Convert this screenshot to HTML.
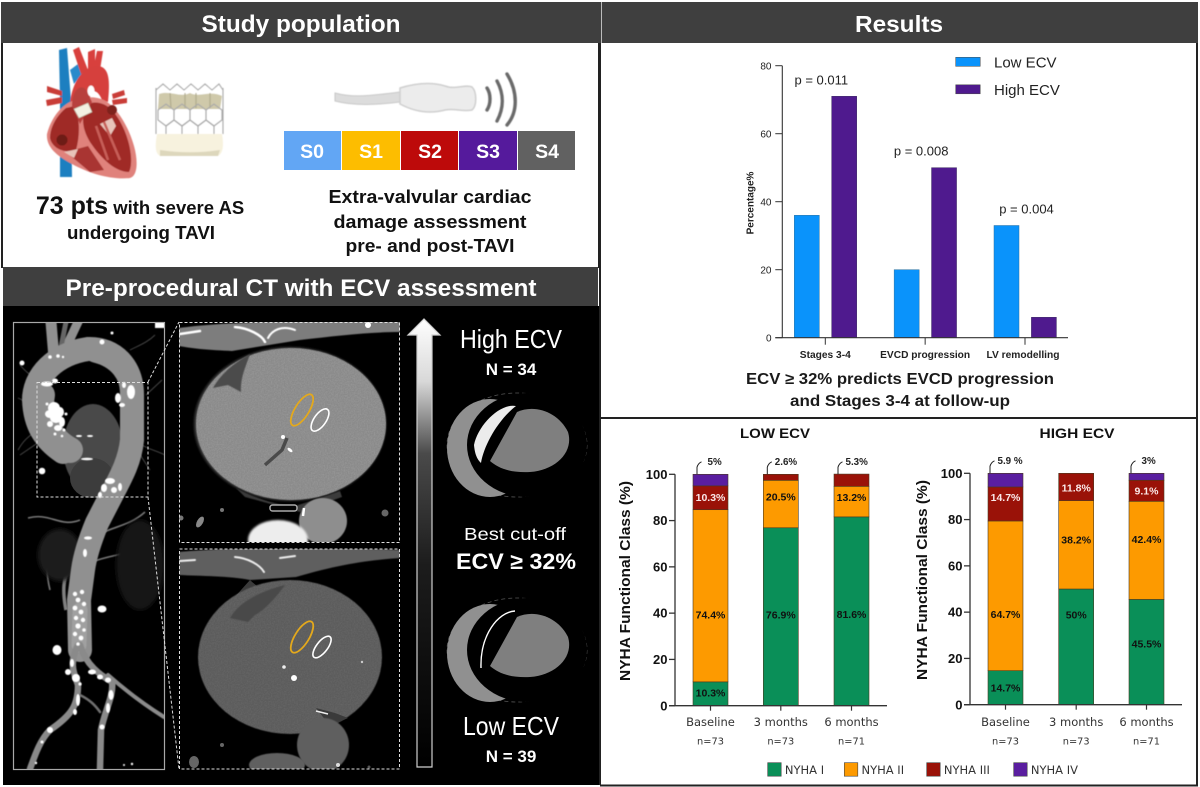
<!DOCTYPE html>
<html lang="en">
<head>
<meta charset="utf-8">
<title>ECV assessment and TAVI outcomes</title>
<style>
html,body{margin:0;padding:0;background:#fff;width:1200px;height:787px;overflow:hidden}
svg{display:block}
text{font-family:"Liberation Sans",sans-serif}
</style>
</head>
<body>
<svg id="root" xmlns="http://www.w3.org/2000/svg" width="1200" height="787" viewBox="0 0 1200 787">
<defs>
<filter id="b05"><feGaussianBlur stdDeviation="0.5"/></filter>
<filter id="b1"><feGaussianBlur stdDeviation="1"/></filter>
<filter id="b2"><feGaussianBlur stdDeviation="2"/></filter>
<filter id="noise" x="0" y="0" width="100%" height="100%"><feTurbulence type="fractalNoise" baseFrequency="0.7" numOctaves="2" seed="4"/><feColorMatrix values="0 0 0 0 0.62 0 0 0 0 0.62 0 0 0 0 0.62 1.6 0 0 0 -0.5"/></filter>
<linearGradient id="arrowGrad" x1="0" y1="0" x2="0" y2="1"><stop offset="0" stop-color="#fff"/><stop offset="0.14" stop-color="#d8d8d8"/><stop offset="0.3" stop-color="#4a4a4a"/><stop offset="0.55" stop-color="#1c1c1c"/><stop offset="1" stop-color="#000"/></linearGradient>
<clipPath id="upperClip"><rect x="179" y="322" width="221" height="220"/></clipPath>
<clipPath id="lowerClip"><rect x="179" y="549" width="221" height="220"/></clipPath>
<clipPath id="leftClip"><rect x="13" y="322" width="152" height="447"/></clipPath>
<clipPath id="upperHeartClip"><ellipse cx="291" cy="424" rx="95" ry="76"/></clipPath>
<clipPath id="lowerHeartClip"><ellipse cx="290" cy="657" rx="92" ry="77"/></clipPath>
</defs>

<rect x="0" y="0" width="1200" height="787" fill="#fff"/>

<!-- Left column -->
<g>
<rect x="1" y="2" width="599" height="41" fill="#3f3f3f"/>
<text x="301" y="32" text-anchor="middle" font-size="24" font-weight="700" fill="#fff" textLength="199" lengthAdjust="spacingAndGlyphs">Study population</text>
<rect x="1" y="43" width="2" height="225" fill="#222"/>
<rect x="598" y="43" width="2" height="225" fill="#222"/>

<g filter="url(#b05)">
<path d="M59 50 L67 48 L71 100 L72 177 L60 177 L60 100 Z" fill="#1f7fc0"/>
<path d="M70 70 L78 64 L82 74 L74 84 Z" fill="#2a8acb"/>
<path d="M73 50 L79 47 L88 70 L81 74 Z" fill="#d8413d"/>
<path d="M88 52 L95 49 L95 70 L88 72 Z" fill="#d8413d"/>
<path d="M97 51 L103 51 L100 70 L93 70 Z" fill="#d8413d"/>
<path d="M70 104 C72 80 85 66 97 66 C110 66 110 82 108 102 L102 100 C98 90 92 88 90 98 L80 112 Z" fill="#d6403c"/>
<ellipse cx="91" cy="91" rx="3.5" ry="5.5" fill="#fff"/>
<path d="M47 86 L62 91 L62 96 L47 92 Z M46 100 L62 97 L62 103 L47 106 Z" fill="#c93c38"/>
<path d="M112 94 L124 90 L125 95 L113 99 Z M112 100 L127 98 L127 103 L113 105 Z" fill="#c93c38"/>
<path d="M70 102 C58 108 50 122 47 134 C46 146 55 155 72 164 C90 174 112 180 130 178 C138 176 138 160 134 146 C129 128 118 108 104 100 C95 96 82 96 70 102 Z" fill="#e0827c"/>
<path d="M66 108 C56 116 50 128 50 138 C52 148 64 154 76 150 C80 136 80 120 75 106 Z" fill="#9f2a27"/>
<path d="M86 106 C80 120 84 132 90 142 C102 160 116 172 129 172 C135 160 128 128 112 110 C104 102 92 100 86 106 Z" fill="#a02a27"/>
<path d="M72 106 C72 88 82 84 86 90 L92 102 L80 124 Z" fill="#b8403c"/>
<path d="M66 152 L88 146 L104 170 L90 172 Z" fill="#a93531"/>
<path d="M100 124 L112 118 L116 126 L110 136 Z" fill="#e8c4ba"/>
<path d="M64 152 L78 149 L74 158 Z" fill="#e8c4ba"/>
<path d="M96 126 L108 160 M104 122 L120 160" stroke="#c75f58" stroke-width="2.5"/>
<circle cx="62" cy="140" r="5.5" fill="#6d1a18"/>
<circle cx="112" cy="110" r="5" fill="#7e201d"/>
<path d="M74 109 L88 103 L92 112 L79 118 Z" fill="#f3f0e2" stroke="#b9b79f" stroke-width="0.6"/>
</g>

<g filter="url(#b05)">
<path d="M158 92 L170 87 L178 90 L190 85 L200 90 L212 85 L220 92 L219 108 L158 108 Z" fill="#fff"/>
<path d="M159 94 C170 90 180 98 190 93 C200 98 210 90 222 96 L220 109 L158 109 Z" fill="#cfc9aa"/>
<path d="M170 93 L171 108 M185 93 L185 108 M196 93 L196 108 M210 93 L210 108" stroke="#b0aa8c" stroke-width="1.2"/>
<path d="M157 134 L222 134 C224 146 223 153 218 156 L160 156 C155 153 155 146 157 134 Z" fill="#f7f2de"/>
<path d="M160 150 C180 153 200 153 220 150 L218 156 L160 156 Z" fill="#ddd7bc"/>
<g fill="none" stroke="#a9a9a9" stroke-width="1.1">
<path d="M156 88 L156 134 M223 88 L223 134"/>
<path d="M156 90 L163 84 L170 90 L177 84 L184 90 L191 84 L198 90 L205 84 L212 90 L219 84 L223 90"/>
<path d="M158 110 L166 104 L174 110 L174 120 L166 126 L158 120 Z"/>
<path d="M174 110 L182 104 L190 110 L190 120 L182 126 L174 120 Z"/>
<path d="M190 110 L198 104 L206 110 L206 120 L198 126 L190 120 Z"/>
<path d="M206 110 L214 104 L222 110 L222 120 L214 126 L206 120 Z"/>
<path d="M166 126 L174 120 L182 126 L182 134 M198 126 L206 120 L214 126 L214 134 M182 126 L190 120 L198 126 L198 134 M166 126 L166 134"/>
</g>
</g>

<text x="140" y="214" text-anchor="middle" fill="#111" font-weight="700"><tspan font-size="25">73 pts</tspan><tspan font-size="18.5"> with severe AS</tspan></text>
<text x="141" y="239" text-anchor="middle" fill="#111" font-weight="700" font-size="18.5" textLength="148" lengthAdjust="spacingAndGlyphs" id="undergoing">undergoing TAVI</text>

<g filter="url(#b05)">
<path d="M335 93 C350 97 362 97 400 92 L400 102 C370 106 350 105 335 101 Z" fill="#dcdcdc" stroke="#c8c8c8"/>
<path d="M400 88 C420 82 435 83 445 86 C455 90 465 84 472 87 C477 92 477 106 472 110 C462 112 455 108 445 110 C430 114 415 112 400 104 Z" fill="#ececec" stroke="#cfcfcf" stroke-width="1.5"/>
<path d="M487 88 C491 94 491 104 487 110" fill="none" stroke="#6b6b6b" stroke-width="3.4" stroke-linecap="round"/>
<path d="M497 81 C504 94 504 108 497 121" fill="none" stroke="#6b6b6b" stroke-width="3.4" stroke-linecap="round"/>
<path d="M507 74 C518 92 518 112 507 125" fill="none" stroke="#6b6b6b" stroke-width="3.4" stroke-linecap="round"/>
</g>

<g>
<rect x="284" y="131" width="57" height="39" fill="#62a6f4"/>
<rect x="342" y="131" width="58" height="39" fill="#fdbd00"/>
<rect x="401" y="131" width="57" height="39" fill="#bd0a0a"/>
<rect x="459" y="131" width="58" height="39" fill="#551a9c"/>
<rect x="518" y="131" width="57" height="39" fill="#616161"/>
<g font-size="19.5" font-weight="700" fill="#fff" text-anchor="middle">
<text x="312" y="158">S0</text>
<text x="371" y="158">S1</text>
<text x="430" y="158">S2</text>
<text x="488" y="158">S3</text>
<text x="547" y="158">S4</text>
</g>
</g>
<g fill="#111" font-weight="700" font-size="18" text-anchor="middle">
<text x="430" y="203" textLength="203" lengthAdjust="spacingAndGlyphs">Extra-valvular cardiac</text>
<text x="430" y="228" textLength="193" lengthAdjust="spacingAndGlyphs">damage assessment</text>
<text x="430" y="252" textLength="169" lengthAdjust="spacingAndGlyphs">pre- and post-TAVI</text>
</g>

<rect x="3" y="267" width="595" height="39" fill="#3f3f3f"/>
<text x="301" y="296" text-anchor="middle" font-size="24" font-weight="700" fill="#fff" textLength="471" lengthAdjust="spacingAndGlyphs">Pre-procedural CT with ECV assessment</text>
</g>

<!-- CT panel -->
<g>
<rect x="3" y="306" width="597" height="479" fill="#000"/>

<g clip-path="url(#leftClip)">
<g fill="none" stroke="#4a4a4a" stroke-width="0.9" filter="url(#b05)">
<path d="M36 378 C30 375 26 372 20 365 M33 405 L18 398 M37 430 C30 436 25 438 18 450 M42 440 L20 455 M140 444 C150 450 155 450 165 455 M137 450 L150 470 M130 350 C140 345 148 342 155 335 M146 395 L162 380"/>
<path d="M80 520 C60 528 50 512 28 518 M50 540 C48 560 45 570 50 590 M85 545 C105 525 125 530 145 512 M92 562 C110 555 125 555 132 550" stroke="#777" stroke-width="1.6"/>
<path d="M78 560 C62 570 62 590 66 610" stroke="#808080" stroke-width="3.5"/>
</g>
<ellipse cx="60" cy="555" rx="22" ry="26" fill="#1a1a1a" filter="url(#b2)"/>
<ellipse cx="140" cy="565" rx="24" ry="45" fill="#161616" filter="url(#b2)"/>
<ellipse cx="93" cy="448" rx="30" ry="44" fill="#4a4a4a" filter="url(#b05)"/>
<ellipse cx="92" cy="478" rx="22" ry="20" fill="#3c3c3c"/>
<g fill="none" stroke-linecap="round" stroke="#909090" filter="url(#b05)">
<path d="M51 322 L54 358" stroke-width="11"/>
<path d="M78 322 L62 356" stroke-width="9"/>
<path d="M66 322 L60 352" stroke-width="5" stroke="#666"/>
<path d="M63 452 C45 440 35 425 34 400 C34 376 55 354 88 349 C115 348 132 368 132 395 L132 440 C130 460 122 475 113 492 L97 523 C90 540 85 555 83 570 L79 600 L80 650" stroke-width="24"/>
<path d="M42 395 C38 415 50 440 70 450" stroke-width="26"/>
<path d="M95 352 C120 358 130 375 132 395" stroke-width="21"/>
<path d="M80 610 L79 645" stroke-width="15" stroke="#a0a0a0"/>
<path d="M78 645 C68 665 75 675 78 685 C78 705 72 715 50 730 C40 740 35 755 30 769" stroke-width="6.5" stroke="#8a8a8a"/>
<path d="M80 645 C86 665 100 675 112 682 C114 695 105 710 101 730 L100 769" stroke-width="6.5" stroke="#8a8a8a"/>
<path d="M108 675 C125 690 145 705 164 717" stroke-width="4" stroke="#8a8a8a"/>
<path d="M80 695 C90 700 95 705 100 712" stroke-width="2.5" stroke="#707070"/>
</g>
<g fill="#fff" filter="url(#b05)">
<ellipse cx="54" cy="408" rx="6" ry="6"/><ellipse cx="60" cy="412" rx="4" ry="5"/><ellipse cx="50" cy="414" rx="5" ry="4"/><ellipse cx="56" cy="418" rx="6" ry="5"/><ellipse cx="62" cy="422" rx="3" ry="5"/><ellipse cx="50" cy="424" rx="3" ry="3"/><ellipse cx="58" cy="428" rx="4" ry="3"/><circle cx="64" cy="430" r="1.5"/><circle cx="47" cy="404" r="1.5"/><circle cx="66" cy="414" r="1.5"/><circle cx="55" cy="434" r="1.5"/><circle cx="62" cy="436" r="1.3"/>
<ellipse cx="47" cy="384" rx="6" ry="2.5"/><ellipse cx="55" cy="381" rx="3" ry="2.5"/><circle cx="50" cy="357" r="1.8"/><circle cx="58" cy="356" r="1.8"/><circle cx="63" cy="357" r="1.2"/>
<circle cx="102" cy="342" r="2.5"/><ellipse cx="131" cy="392" rx="4" ry="7"/><ellipse cx="124" cy="385" rx="2" ry="3"/><ellipse cx="118" cy="398" rx="3" ry="5"/><ellipse cx="122" cy="405" rx="3" ry="2"/>
<circle cx="22" cy="363" r="2.5"/><circle cx="42" cy="471" r="3.3"/><circle cx="112" cy="333" r="1.5"/>
<ellipse cx="110" cy="481" rx="5" ry="3"/><ellipse cx="104" cy="488" rx="3" ry="4"/><ellipse cx="114" cy="490" rx="3" ry="3"/><ellipse cx="120" cy="487" rx="2" ry="4"/><ellipse cx="100" cy="495" rx="2" ry="3"/>
<ellipse cx="87" cy="459" rx="6" ry="1.3"/><ellipse cx="79" cy="436" rx="3" ry="1"/><ellipse cx="90" cy="436" rx="3" ry="1"/>
<ellipse cx="88" cy="538" rx="4" ry="1.6"/><ellipse cx="85" cy="553" rx="2" ry="4"/>
<circle cx="75" cy="594" r="2.2"/><circle cx="82" cy="592" r="2.2"/><circle cx="78" cy="600" r="2.4"/><circle cx="84" cy="604" r="2.2"/><circle cx="75" cy="608" r="2.4"/><circle cx="81" cy="612" r="2.4"/><circle cx="76" cy="618" r="2.2"/><circle cx="83" cy="620" r="2.2"/><circle cx="78" cy="626" r="2.6"/><circle cx="84" cy="630" r="1.8"/><circle cx="75" cy="634" r="2.2"/><circle cx="81" cy="638" r="2.4"/><circle cx="78" cy="644" r="1.8"/>
<ellipse cx="102" cy="609" rx="4.5" ry="3.5"/><ellipse cx="57" cy="650" rx="4.5" ry="5"/>
<ellipse cx="68" cy="672" rx="3" ry="3"/><ellipse cx="76" cy="678" rx="4" ry="4"/><ellipse cx="72" cy="663" rx="2" ry="4"/><circle cx="80" cy="684" r="1.6"/>
<ellipse cx="92" cy="672" rx="4" ry="2.5"/><ellipse cx="100" cy="677" rx="3" ry="2.5"/><ellipse cx="108" cy="680" rx="3" ry="2.5"/><ellipse cx="111" cy="695" rx="2.5" ry="5"/><ellipse cx="108" cy="708" rx="2" ry="5"/>
<ellipse cx="78" cy="700" rx="2" ry="6"/><ellipse cx="75" cy="712" rx="2" ry="3"/><circle cx="102" cy="727" r="2.5"/><circle cx="50" cy="730" r="3"/><circle cx="42" cy="742" r="1.5"/>
<circle cx="132" cy="764" r="1.2"/><circle cx="124" cy="765" r="1"/><circle cx="36" cy="763" r="1.2"/>
<rect x="155" y="322" width="10" height="6"/>
</g>
</g>
<rect x="13.5" y="322.5" width="151" height="447" fill="none" stroke="#a8a8a8" stroke-width="1.2"/>
<rect x="37" y="382.5" width="111" height="114.5" fill="none" stroke="#ddd" stroke-width="1" stroke-dasharray="3 2"/>
<path d="M148 382 L179 322 M148 497 L179 769" fill="none" stroke="#ddd" stroke-width="1" stroke-dasharray="3 2"/>

<g clip-path="url(#upperClip)">
<path d="M179 328 C220 322 300 320 400 322 L400 332 C370 332 335 336 300 340 L232 351 C210 350 195 349 179 346 Z" fill="#7d7d7d" filter="url(#b05)"/>
<g fill="none" stroke="#fff" stroke-linecap="round" filter="url(#b05)"><path d="M180 334 L200 331" stroke-width="2.5"/><path d="M235 327 C248 328 262 335 265 342" stroke-width="2.5"/><path d="M268 338 C272 330 282 325 295 330" stroke-width="2"/></g>
<circle cx="368" cy="325" r="3" fill="#fff"/>
<ellipse cx="290" cy="424" rx="96" ry="77" fill="#3a3a3a" filter="url(#b1)"/>
<ellipse cx="291" cy="424" rx="95" ry="76" fill="#8a8a8a" filter="url(#b05)"/>
<rect x="190" y="340" width="205" height="170" clip-path="url(#upperHeartClip)" fill="#888" filter="url(#noise)" opacity="0.22"/>
<path d="M213 388 C222 372 236 362 250 354 C246 366 240 378 241 392 L228 385 Z" fill="#4c4c4c" filter="url(#b05)"/>
<path d="M236 488 C255 498 275 505 295 506 C305 503 320 498 340 491 L342 497 L300 512 L245 497 Z" fill="#3a3a3a" filter="url(#b05)"/>
<path d="M265 465 L282 450 L287 438" fill="none" stroke="#4a4a4a" stroke-width="3.5"/>
<circle cx="283" cy="437" r="2" fill="#fff"/><ellipse cx="290" cy="450" rx="3" ry="1.5" transform="rotate(40 290 450)" fill="#fff"/>
<ellipse cx="323" cy="521" rx="24" ry="23" fill="#8e8e8e" filter="url(#b05)"/>
<rect x="270" y="505" width="27" height="6" rx="2.5" fill="#050505" stroke="#aaa" stroke-width="1.5"/>
<ellipse cx="278" cy="540" rx="30" ry="20" fill="#ededed" filter="url(#b1)"/>
<path d="M304 508 L303 516" stroke="#fff" stroke-width="2.5"/>
<circle cx="222" cy="510" r="2" fill="#777"/><circle cx="385" cy="513" r="3.5" fill="#666"/><ellipse cx="200" cy="522" rx="3" ry="6" transform="rotate(30 200 522)" fill="#888"/><circle cx="181" cy="518" r="2.5" fill="#777"/>
<ellipse cx="302" cy="410" rx="18" ry="7" transform="rotate(-58 302 410)" fill="none" stroke="#e4a91c" stroke-width="1.8"/>
<ellipse cx="320" cy="420" rx="13" ry="6" transform="rotate(-55 320 420)" fill="none" stroke="#fff" stroke-width="1.6"/>
</g>
<g clip-path="url(#lowerClip)">
<path d="M179 552 C220 548 300 547 400 550 L400 558 C370 560 340 564 296 577 L250 580 C230 576 200 576 179 575 Z" fill="#5f5f5f" filter="url(#b05)"/>
<g fill="none" stroke="#eee" stroke-linecap="round" filter="url(#b05)"><path d="M180 561 L195 560" stroke-width="2"/><path d="M235 557 C248 558 260 565 264 572" stroke-width="2"/><path d="M280 558 L295 556" stroke-width="2"/></g>
<path d="M250 580 C262 592 280 598 300 600 L270 620 L232 600 Z" fill="#3b3b3b"/>
<ellipse cx="290" cy="657" rx="92" ry="77" fill="#5c5c5c" filter="url(#b05)"/>
<rect x="195" y="575" width="190" height="160" clip-path="url(#lowerHeartClip)" fill="#666" filter="url(#noise)" opacity="0.1"/>
<path d="M230 618 C240 600 265 590 285 585 C278 595 265 610 255 615 L248 622 Z" fill="#484848" filter="url(#b05)"/>
<path d="M316 708 L335 713 L348 718 L330 726 Z" fill="#3a3a3a"/>
<circle cx="284" cy="667" r="1.8" fill="#eee"/><circle cx="294" cy="678" r="3" fill="#fff"/><circle cx="362" cy="662" r="1.2" fill="#ccc"/>
<path d="M316 711 L328 714" stroke="#eee" stroke-width="1.5"/>
<ellipse cx="323" cy="745" rx="26" ry="27" fill="#5e5e5e" filter="url(#b05)"/>
<ellipse cx="277" cy="765" rx="28" ry="12" fill="#606060" filter="url(#b05)"/>
<circle cx="338" cy="765" r="2" fill="#ddd"/><circle cx="369" cy="767" r="1.5" fill="#555"/><ellipse cx="194" cy="762" rx="5" ry="6" fill="#666"/><circle cx="222" cy="745" r="2" fill="#666"/>
<ellipse cx="302" cy="637" rx="18" ry="7" transform="rotate(-58 302 637)" fill="none" stroke="#e4a91c" stroke-width="1.8"/>
<ellipse cx="322" cy="647" rx="13" ry="5.5" transform="rotate(-52 322 647)" fill="none" stroke="#fff" stroke-width="1.6"/>
</g>
<rect x="179.5" y="322.5" width="220" height="220" fill="none" stroke="#ddd" stroke-width="1" stroke-dasharray="3 2"/>
<rect x="179.5" y="549" width="220" height="220" fill="none" stroke="#ddd" stroke-width="1" stroke-dasharray="3 2"/>

<path d="M417 767 L417 335 L408 335 L424 319 L440 335 L432 335 L432 767 Z" fill="url(#arrowGrad)" stroke="#cfcfcf" stroke-width="1.2"/>

<g fill="#fff" text-anchor="middle">
<text x="511" y="348" font-size="26" textLength="102" lengthAdjust="spacingAndGlyphs">High ECV</text>
<text x="511" y="375" font-size="17" font-weight="700">N = 34</text>
<text x="515" y="540" font-size="17.5" textLength="102" lengthAdjust="spacingAndGlyphs">Best cut-off</text>
<text x="516" y="569" font-size="22" font-weight="700" textLength="120" lengthAdjust="spacingAndGlyphs">ECV ≥ 32%</text>
<text x="511" y="735" font-size="26" textLength="96" lengthAdjust="spacingAndGlyphs">Low ECV</text>
<text x="511" y="762" font-size="17" font-weight="700">N = 39</text>
</g>

<g>
<ellipse cx="517" cy="445" rx="70" ry="52" fill="none" stroke="#555" stroke-width="0.8" stroke-dasharray="4 3"/>
<ellipse cx="490" cy="448" rx="43" ry="49" fill="#909090"/>
<ellipse cx="527" cy="445" rx="60" ry="52" fill="#000"/>
<path d="M517 412 C535 404 558 412 568 432 C574 452 556 470 530 472 C510 473 498 468 490 461 Z" fill="#7f7f7f"/>
<path d="M516 406 C500 403 478 425 474 445 C475 456 478 460 481 463 C484 445 498 420 516 406 Z" fill="#ececec"/>
</g>
<g>
<ellipse cx="517" cy="650" rx="70" ry="52" fill="none" stroke="#555" stroke-width="0.8" stroke-dasharray="4 3"/>
<ellipse cx="490" cy="653" rx="43" ry="49" fill="#909090"/>
<ellipse cx="527" cy="650" rx="60" ry="52" fill="#000"/>
<path d="M517 617 C535 609 558 617 568 637 C574 657 556 675 530 677 C510 678 498 673 490 666 Z" fill="#7f7f7f"/>
<path d="M515 611 C498 612 480 635 481 668" fill="none" stroke="#fff" stroke-width="1.4"/>
</g>
</g>

<!-- Right column -->
<g>
<rect x="600" y="2" width="598" height="41" fill="#3f3f3f"/>
<rect x="601" y="2" width="1" height="41" fill="#bbb"/>
<text x="899" y="32" text-anchor="middle" font-size="23" font-weight="700" fill="#fff" textLength="88" lengthAdjust="spacingAndGlyphs">Results</text>
<rect x="599" y="43" width="2" height="742" fill="#222"/>
<rect x="600" y="417" width="597" height="2" fill="#222"/>
<rect x="1196" y="43" width="2" height="743" fill="#222"/>
<rect x="600" y="784.5" width="598" height="2" fill="#222"/>
<text x="900" y="384" text-anchor="middle" font-size="15.5" font-weight="700" fill="#1a1a1a" textLength="308" lengthAdjust="spacingAndGlyphs">ECV ≥ 32% predicts EVCD progression</text>
<text x="900" y="406" text-anchor="middle" font-size="15.5" font-weight="700" fill="#1a1a1a" textLength="220" lengthAdjust="spacingAndGlyphs">and Stages 3-4 at follow-up</text>
<g id="barChart"></g>
<g id="lowChart"></g>
<g id="highChart"></g>
<g id="nyhaLegend"></g>
</g>
</svg>

<script>
// Grouped bar chart data
const outcomeCategories = ['Stages 3-4', 'EVCD progression', 'LV remodelling'];
const lowEcvOutcome = [36, 20, 33];
const highEcvOutcome = [71, 50, 6];
const outcomePValues = ['p = 0.011', 'p = 0.008', 'p = 0.004'];
const outcomeTicks = [0, 20, 40, 60, 80];
const outcomeSeriesNames = ['Low ECV', 'High ECV'];

// NYHA stacked bar data
const nyhaTimepoints = ['Baseline', '3 months', '6 months'];
const nyhaSampleSizes = ['n=73', 'n=73', 'n=71'];
const nyhaClasses = ['NYHA I', 'NYHA II', 'NYHA III', 'NYHA IV'];
const nyhaTicks = [0, 20, 40, 60, 80, 100];
const lowNyhaI = [10.3, 76.9, 81.6];
const lowNyhaII = [74.4, 20.5, 13.2];
const lowNyhaIII = [10.3, 2.6, 5.3];
const lowNyhaIV = [5, 0, 0];
const lowTopLabels = ['5%', '2.6%', '5.3%'];
const highNyhaI = [14.7, 50, 45.5];
const highNyhaII = [64.7, 38.2, 42.4];
const highNyhaIII = [14.7, 11.8, 9.1];
const highNyhaIV = [5.9, 0, 3];
const highTopLabels = ['5.9 %', '', '3%'];

const SVGNS = 'http://www.w3.org/2000/svg';
function make(parent, tag, attrs, txt) {
  const el = document.createElementNS(SVGNS, tag);
  for (const k in attrs) el.setAttribute(k, attrs[k]);
  if (txt !== undefined) el.textContent = txt;
  parent.appendChild(el);
  return el;
}

// ----- Grouped bars -----
(function () {
  const g = document.getElementById('barChart');
  const y = v => 337.7 - v * (272 / 80);
  const groupX = i => 825.3 + i * 99.85;
  const barW = 25;
  const axisX = 782.3;
  const catWidths = [51, 90, 73];

  outcomeCategories.forEach((cat, i) => {
    const c = groupX(i);
    const lowBar = make(g, 'rect', { x: c - 31, y: y(lowEcvOutcome[i]), width: barW, height: y(0) - y(lowEcvOutcome[i]), fill: '#0a93fb', stroke: '#2a6f9e', 'stroke-width': 0.5 });
    
    
    const highBar = make(g, 'rect', { x: c + 6.4, y: y(highEcvOutcome[i]), width: barW, height: y(0) - y(highEcvOutcome[i]), fill: '#4f1a8e', stroke: '#3a2a60', 'stroke-width': 0.5 });
    
    
    const tick = make(g, 'line', { x1: c, x2: c, y1: y(0), y2: y(0) + 7, stroke: '#333', 'stroke-width': 1 });
    
    
    const catLabel = make(g, 'text', { x: c - (i === 2 ? 2 : 0), y: 358, 'text-anchor': 'middle', 'font-size': 10, 'font-weight': 700, fill: '#222', textLength: catWidths[i], lengthAdjust: 'spacingAndGlyphs' }, cat);
    
    
    const top = Math.max(lowEcvOutcome[i], highEcvOutcome[i]);
    const pLabel = make(g, 'text', { x: c + (i === 2 ? 1.5 : -4), y: y(top) - 12, 'text-anchor': 'middle', 'font-size': 13, fill: '#222' }, outcomePValues[i]);
    
    
  });

  const yAxis = make(g, 'line', { x1: axisX, x2: axisX, y1: y(80), y2: y(0), stroke: '#333', 'stroke-width': 1.1 });
  
  
  const xAxis = make(g, 'line', { x1: axisX - 7, x2: 1068, y1: y(0), y2: y(0), stroke: '#333', 'stroke-width': 1.1 });
  
  

  outcomeTicks.forEach(t => {
    const tickLine = make(g, 'line', { x1: axisX - 7, x2: axisX, y1: y(t), y2: y(t), stroke: '#333', 'stroke-width': 1 });
    
    
    const tickText = make(g, 'text', { x: 771.5, y: y(t) + 3.6, 'text-anchor': 'end', 'font-size': 10, fill: '#222' }, t);
    
    
  });
  const yTitle = make(g, 'text', { transform: 'translate(753.5 203) rotate(-90)', 'text-anchor': 'middle', 'font-size': 10, 'font-weight': 700, fill: '#222' }, 'Percentage%');
  
  

  const legendColors = ['#0a93fb', '#4f1a8e'];
  outcomeSeriesNames.forEach((name, i) => {
    const ly = 57.3 + i * 27.5;
    const sw = make(g, 'rect', { x: 955.7, y: ly, width: 24.5, height: 9, fill: legendColors[i], stroke: '#444', 'stroke-width': 0.5 });
    
    
    const lt = make(g, 'text', { x: 994, y: ly + 10.4, 'font-size': 15, fill: '#222' }, name);
    
    
  });
})();

// ----- Stacked bars -----
const nyhaColors = ['#0a8f58', '#fd9a00', '#9a1208', '#5a1ea0'];
function drawStack(cfg) {
  const g = document.getElementById(cfg.id);
  const y = v => cfg.y0 - v * cfg.scale;
  const barW = 35;
  const series = cfg.series;

  nyhaTimepoints.forEach((tp, i) => {
    const left = cfg.barLeft[i];
    const c = left + barW / 2;
    let base = 0;
    let topIdx = -1;
    series.forEach((s, k) => { if (s[i] > 0) topIdx = k; });
    series.forEach((s, k) => {
      const v = s[i];
      if (v <= 0) return;
      const seg = make(g, 'rect', { x: left, y: y(base + v), width: barW, height: v * cfg.scale, fill: nyhaColors[k], stroke: '#4a3a20', 'stroke-width': 0.6 });
      
      
      const isCallout = k === topIdx && cfg.topLabels[i] !== '';
      if (!isCallout) {
        const ly = y(base + v / 2) + cfg.labelShift[i][k] + 3.6;
        const lab = make(g, 'text', { x: c, y: ly, 'text-anchor': 'middle', 'font-size': 10.5, 'font-weight': 700, fill: k === 2 && (cfg.id === 'highChart' || i === 0) ? '#fbe9e9' : '#111' }, v + '%');
        
        
      }
      base += v;
    });
    if (cfg.topLabels[i] !== '') {
      const lx = left + cfg.leader;
      const leaderPath = make(g, 'path', { d: 'M' + lx + ' ' + y(100) + ' L' + lx + ' ' + (y(100) - 7) + ' Q' + (lx + 1) + ' ' + (y(100) - 11) + ' ' + (lx + 4.5) + ' ' + (y(100) - 12.5), fill: 'none', stroke: '#222', 'stroke-width': 1 });
      
      
      const call = make(g, 'text', { x: lx + 7.5 + (cfg.topLabels[i].length < 3 ? 3 : 0), y: y(100) - 9.5, 'font-size': 9.8, 'font-weight': 700, fill: '#222' }, cfg.topLabels[i]);
      
      
    }
    const tick = make(g, 'line', { x1: c, x2: c, y1: y(0), y2: y(0) + 5, stroke: '#333', 'stroke-width': 1.2 });
    
    
    const tpLabel = make(g, 'text', { x: c, y: 726, 'text-anchor': 'middle', 'font-size': 11.5, fill: '#333', style: 'font-family:"DejaVu Sans",sans-serif' }, tp);
    
    
    const nLabel = make(g, 'text', { x: c, y: 744.3, 'text-anchor': 'middle', 'font-size': 9.8, fill: '#333', style: 'font-family:"DejaVu Sans",sans-serif' }, nyhaSampleSizes[i]);
    
    
  });

  const yAxis = make(g, 'line', { x1: cfg.axisX, x2: cfg.axisX, y1: y(100), y2: y(0), stroke: '#333', 'stroke-width': 1.3 });
  
  
  const xAxis = make(g, 'line', { x1: cfg.axisX - 6, x2: cfg.axisX + 212, y1: y(0), y2: y(0), stroke: '#333', 'stroke-width': 1.3 });
  
  
  nyhaTicks.forEach(t => {
    const tl = make(g, 'line', { x1: cfg.axisX - 6, x2: cfg.axisX, y1: y(t), y2: y(t), stroke: '#333', 'stroke-width': 1.3 });
    
    
    const tt = make(g, 'text', { x: cfg.axisX - 7.5, y: y(t) + 4.6, 'text-anchor': 'end', 'font-size': 13, 'font-weight': 700, fill: '#111' }, t);
    
    
  });
  const yt = make(g, 'text', { transform: 'translate(' + cfg.titleX + ' ' + cfg.titleY + ') rotate(-90)', 'text-anchor': 'middle', 'font-size': 14.5, 'font-weight': 700, fill: '#111', textLength: 200, lengthAdjust: 'spacingAndGlyphs' }, 'NYHA Functional Class (%)');
  
  
  const title = make(g, 'text', { x: cfg.headX, y: 438, 'text-anchor': 'middle', 'font-size': 14, 'font-weight': 700, fill: '#111', textLength: cfg.headW, lengthAdjust: 'spacingAndGlyphs' }, cfg.head);
  
  
}

drawStack({
  id: 'lowChart', head: 'LOW ECV', headX: 775, headW: 70,
  y0: 705.7, scale: 2.314, axisX: 675, barLeft: [693, 763.3, 834], leader: 4,
  titleX: 630, titleY: 581,
  series: [lowNyhaI, lowNyhaII, lowNyhaIII, lowNyhaIV], topLabels: lowTopLabels,
  labelShift: [[-1, 19, -0.5, 0], [-2, -7, 0, 0], [3, -4, 0, 0]]
});
drawStack({
  id: 'highChart', head: 'HIGH ECV', headX: 1077, headW: 75,
  y0: 704.7, scale: 2.314, axisX: 970, barLeft: [988, 1058.7, 1129], leader: 2,
  titleX: 927, titleY: 580,
  series: [highNyhaI, highNyhaII, highNyhaIII, highNyhaIV], topLabels: highTopLabels,
  labelShift: [[0, 18.5, -6.7, 0], [-32, -5, 1, 0], [-8, -11, 0, 0]]
});

(function () {
  const g = document.getElementById('nyhaLegend');
  const swatchX = [767.7, 844.3, 926.7, 1013.7];
  nyhaClasses.forEach((name, i) => {
    const sw = make(g, 'rect', { x: swatchX[i], y: 762.7, width: 13.5, height: 13.5, fill: nyhaColors[i], stroke: '#444', 'stroke-width': 0.6 });
    
    
    const lt = make(g, 'text', { x: swatchX[i] + 17.2, y: 774, 'font-size': 11.5, fill: '#333', style: 'font-family:"DejaVu Sans",sans-serif' }, name);
    
    
  });
})();
</script>
</body>
</html>
